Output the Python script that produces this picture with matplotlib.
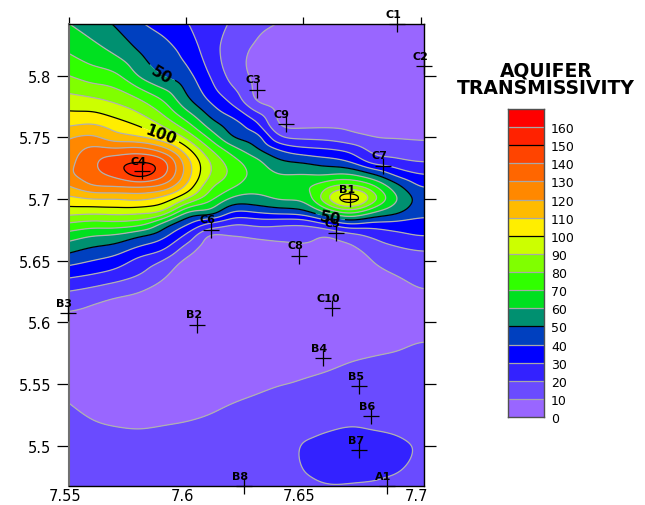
import numpy as np
import matplotlib
matplotlib.use("Agg")
import matplotlib.pyplot as plt
import matplotlib.tri as mtri

y_nodes = [5.46, 5.48, 5.50, 5.52, 5.54, 5.56, 5.58, 5.60, 5.62, 5.64, 5.65, 5.66, 5.67,
           5.68, 5.69, 5.70, 5.71, 5.72, 5.73, 5.74, 5.75, 5.76, 5.78, 5.80, 5.82, 5.85]
x_nodes = [7.55, 7.56, 7.57, 7.58, 7.59, 7.60, 7.61, 7.62, 7.63, 7.64, 7.65, 7.66, 7.67, 7.68, 7.69, 7.70, 7.705]

c755 = [15, 15, 15, 12.2, 9.2, 6.9, 6, 7, 16, 34, 44, 54, 65, 79, 95, 107, 119.5, 128, 127, 124, 119, 109, 94, 80, 69, 57]
c756 = [16, 15.5, 13, 10.1, 7.1, 4.9, 4.5, 6, 13, 31, 40, 49, 60, 76, 94, 110, 129, 137, 138, 133, 122, 111, 92, 75, 64, 52]
c757 = [16, 15.5, 12.3, 9.3, 6.3, 4.5, 4, 5, 10, 27, 36, 46, 58, 77, 95, 110, 130, 143, 146, 132, 114, 105, 88, 72, 58, 46]
c758 = [16, 15.5, 12, 9, 6, 4.3, 4, 5.5, 8, 21, 27, 38, 51, 74, 94, 112, 131, 155, 150, 134, 111, 99, 81, 59, 49.5, 38]
c759 = [15.5, 15, 12.4, 9.4, 6.4, 4.5, 4, 4, 5, 13, 20, 32, 43, 58, 90, 106, 127, 143, 144, 125, 103, 89, 70, 50, 44, 34]
c760 = [15, 14.5, 12.9, 9.9, 6.9, 5, 4, 3.5, 3.5, 4, 8, 16, 28, 42, 62, 90, 108, 116, 115, 104, 88, 74, 53, 44, 37, 29]
c761 = [15, 14.5, 13.8, 10.8, 7.8, 5.2, 4, 3.5, 3, 3, 3.5, 4.5, 8, 29, 58, 73, 82, 90, 90, 81, 68, 56, 39, 30, 25, 23]
c762 = [14.5, 14.5, 14.5, 12.2, 9.2, 6.9, 4.8, 3.5, 2.5, 2.5, 3, 5, 10, 21, 40, 57, 71, 77, 74, 64, 50, 45, 27, 16, 14, 20]
c763 = [14.5, 15, 15.5, 13.2, 10.2, 7.8, 5.5, 4, 3, 2.5, 3, 5.5, 12, 23, 42, 57, 63, 66, 63, 52, 45, 33, 9, 7.5, 8.5, 13]
c764 = [14.5, 16.5, 16.5, 14.3, 11.3, 8.4, 6, 5, 4, 3, 3.5, 6, 14, 22, 45, 61, 63, 60, 52, 39, 21, 9, 5.5, 4.5, 6, 11]
c765 = [15, 20, 20.5, 15, 12, 9.2, 6.5, 5.5, 4, 3.5, 4, 8, 14, 22, 48, 62, 68, 60, 49, 33, 18, 8, 5, 3.5, 4, 7]
c766 = [17, 23, 23, 17, 13, 10, 7, 6, 4.5, 3.5, 4, 6, 10, 31, 64, 88, 78, 59, 45, 31, 17, 8.5, 4, 2.5, 2.5, 5]
c767 = [17, 23, 25, 18.5, 14, 11.2, 8.2, 6.5, 5, 4, 4, 8, 16, 41, 76, 108, 84, 60, 40, 27, 13, 8, 3, 1.5, 1.5, 3]
c768 = [17, 22, 24, 17.5, 14.8, 12, 8.9, 7, 5.5, 8, 10.5, 15, 22, 37, 62, 84, 72, 50, 26, 17, 10, 7, 2.5, 1, 1, 2]
c769 = [15.5, 20.5, 22, 16.5, 15.2, 12.5, 9.5, 7.5, 6, 10.7, 15, 19, 27, 37, 53, 60, 53, 37, 23, 15, 9.5, 6, 2, 0.8, 0.8, 1.5]
c770 = [15, 18, 19, 16, 15.5, 13.6, 10.6, 8, 8.5, 14, 17.5, 21, 30, 37, 43, 46, 39.5, 30, 20, 13.5, 9, 6, 2, 0.6, 0.5, 1]
columns = [c755, c756, c757, c758, c759, c760, c761, c762, c763, c764, c765, c766, c767, c768, c769, c770, c770]

levels = list(range(0, 180, 10))
colors = ["#9966FF", "#6A4BFF", "#3322FF", "#0000FF", "#0040BF", "#009070", "#00E020", "#30FF00", "#80FF00",
          "#CCFF00", "#FFEE00", "#FFBB00", "#FF8800", "#FF6600", "#FF4400", "#FF2200", "#FF0000"]
black_levels = [50, 100, 150]

well_names = ["C1", "C2", "C3", "C9", "C7", "B1", "C5", "C8", "C4", "C6", "B3", "B2", "C10", "B4", "B5", "B6", "B7", "B8", "A1"]
well_x = [7.6898, 7.7015, 7.6304, 7.6424, 7.6838, 7.67, 7.6639, 7.6481, 7.5812, 7.6106, 7.5496, 7.6048, 7.662, 7.6582,
          7.6738, 7.6787, 7.6738, 7.6246, 7.6855]
well_y = [5.8419, 5.8079, 5.7886, 5.7608, 5.727, 5.70, 5.6724, 5.654, 5.7225, 5.6751, 5.6075, 5.5981, 5.6114, 5.571,
          5.5483, 5.5238, 5.4964, 5.4672, 5.4672]

xticks = [7.55, 7.6, 7.65, 7.7]
yticks = [5.5, 5.55, 5.6, 5.65, 5.7, 5.75, 5.8]
xlabels = ["7.55", "7.6", "7.65", "7.7"]
ylabels = ["5.5", "5.55", "5.6", "5.65", "5.7", "5.75", "5.8"]

W, H = 645, 506
fig = plt.figure(figsize=(W / 100, H / 100), dpi=100)
plt.rcParams["font.family"] = "DejaVu Sans"
ax = fig.add_axes([69 / W, (H - 487) / H, 355 / W, 462 / H])
xlim = (7.55, 7.70145)
ylim = (5.4672, 5.8419)

Z = np.array(columns).T
gx, gy = np.meshgrid(x_nodes, y_nodes)
tri = mtri.Triangulation(gx.ravel(), gy.ravel())
interp = mtri.CubicTriInterpolator(tri, Z.ravel(), kind="geom")
fx = np.linspace(7.55, 7.705, 640)
fy = np.linspace(5.46, 5.85, 800)
FX, FY = np.meshgrid(fx, fy)
FZ = np.ma.filled(interp(FX, FY), np.nan)


def smooth(a, size):
    kernel = np.ones(size) / size
    pad = size // 2
    return np.convolve(np.pad(a, pad, mode="reflect", reflect_type="odd"), kernel, mode="valid")


for _ in range(3):
    FZ = np.apply_along_axis(smooth, 1, FZ, 21)
    FZ = np.apply_along_axis(smooth, 0, FZ, 9)
FZ = np.clip(FZ, 0.1, 169)

ax.contourf(FX, FY, FZ, levels=levels, colors=colors, antialiased=True)
gray_levels = [v for v in levels[1:-1] if v not in black_levels]
ax.contour(FX, FY, FZ, levels=gray_levels, colors="#B0B0B0", linewidths=0.9)
cs = ax.contour(FX, FY, FZ, levels=black_levels, colors="black", linewidths=0.9)
ax.clabel(cs, levels=[50, 100], inline=True, fontsize=11, fmt="%d",
          manual=[(7.5892, 5.8006), (7.5892, 5.7527), (7.6613, 5.6838)])
for t in cs.labelTexts:
    t.set_fontweight("bold")

ax.scatter(well_x, well_y, marker="+", s=130, c="black", linewidths=0.9, clip_on=False, zorder=5)
for name, x, y in zip(well_names, well_x, well_y):
    ax.annotate(name, (x, y), xytext=(-2.6, 7.4), textcoords="offset points", ha="center", va="center",
                fontsize=8, fontweight="bold", annotation_clip=False, zorder=6)

ax.set_xlim(xlim)
ax.set_ylim(ylim)
ax.set_xticks(xticks)
ax.set_xticklabels(xlabels, fontsize=10.5)
ax.set_yticks(yticks)
ax.set_yticklabels(ylabels, fontsize=10.5)
ax.tick_params(axis="y", which="both", left=True, right=True, length=8.5, width=0.9, pad=4.5)
ax.tick_params(axis="x", which="both", bottom=False, top=True, length=5, width=0.9, pad=-3.5)
offset = matplotlib.transforms.ScaledTranslation(-4 / 100, 0, fig.dpi_scale_trans)
for lab in ax.get_xticklabels():
    lab.set_transform(lab.get_transform() + offset)
for s in ax.spines.values():
    s.set_linewidth(1.0)
ax.spines["left"].set_color("#707070")
ax.spines["left"].set_linewidth(1.5)

bar = fig.add_axes([508 / W, (H - 418) / H, 36 / W, 308 / H])
for i, c in enumerate(colors):
    bar.bar(0, levels[i + 1] - levels[i], bottom=levels[i], width=1, color=c, linewidth=0)
for v in levels[1:-1]:
    bar.axhline(v, color="black" if v in black_levels else "#A8A8A8", lw=0.9)
bar.set_xlim(-0.5, 0.5)
bar.set_ylim(0, 170)
bar.set_xticks([])
bar.set_yticks(levels[:-1])
bar.set_yticklabels([str(v) for v in levels[:-1]], fontsize=9)
bar.yaxis.tick_right()
bar.tick_params(axis="y", length=0, pad=5)
for s in bar.spines.values():
    s.set_color("#505050")
    s.set_linewidth(1.0)

fig.text(546 / W, 1 - 71 / H, "AQUIFER", ha="center", va="center", fontsize=13.5, fontweight="bold")
fig.text(546 / W, 1 - 89 / H, "TRANSMISSIVITY", ha="center", va="center", fontsize=13.5, fontweight="bold")

fig.savefig("out.png", dpi=100)
